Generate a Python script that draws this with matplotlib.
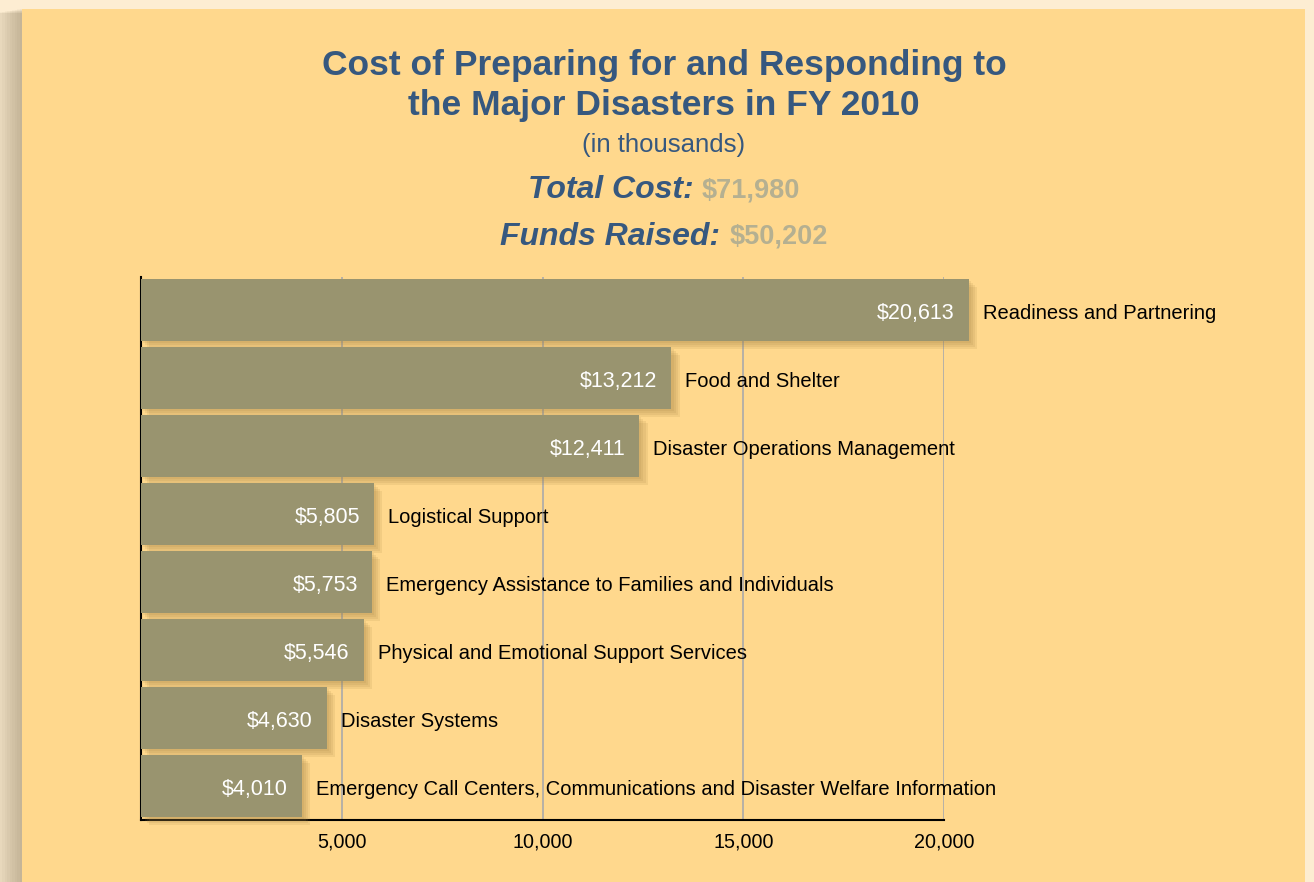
import matplotlib.pyplot as plt
import matplotlib.patheffects as pe
from matplotlib.patches import Rectangle
from matplotlib.ticker import FuncFormatter

categories = [
    "Readiness and Partnering",
    "Food and Shelter",
    "Disaster Operations Management",
    "Logistical Support",
    "Emergency Assistance to Families and Individuals",
    "Physical and Emotional Support Services",
    "Disaster Systems",
    "Emergency Call Centers, Communications and Disaster Welfare Information",
]
costs = [20613, 13212, 12411, 5805, 5753, 5546, 4630, 4010]
tick_values = [5000, 10000, 15000, 20000]
total_cost = 71980
funds_raised = 50202

plt.rcParams['font.family'] = ['Liberation Sans', 'DejaVu Sans']

title_color = '#36587f'
bar_color = '#99946f'
panel_color = '#ffd88d'
outer_color = '#fdedd2'
amount_color = '#b5b091'

fig = plt.figure(figsize=(13.14, 8.82), dpi=100)
fig.patch.set_facecolor(outer_color)

# panel with a soft shadow on the left
W, H = 1314, 882
px, py = 22 / W, 0.0
pw, ph = (1305 - 22) / W, (882 - 9) / H
for i in range(12):
    off = (i + 1) * 2.5 / W
    fig.patches.append(Rectangle((px - off, py), pw, ph - i * 0.4 / H,
                                 transform=fig.transFigure, facecolor='#6b5a3a',
                                 alpha=0.035, edgecolor='none', zorder=0))
fig.patches.append(Rectangle((px, py), pw, ph, transform=fig.transFigure,
                             facecolor=panel_color, edgecolor='none', zorder=1))

# titles
cx = 664 / W
fig.text(cx, 1 - 65 / H, "Cost of Preparing for and Responding to", ha='center', va='center',
         fontsize=25.5, fontweight='bold', color=title_color)
fig.text(cx, 1 - 105 / H, "the Major Disasters in FY 2010", ha='center', va='center',
         fontsize=25.5, fontweight='bold', color=title_color)
fig.text(cx, 1 - 145 / H, "(in thousands)", ha='center', va='center',
         fontsize=18.5, color=title_color)

def summary_line(y, label, amount):
    t1 = fig.text(0, y, label + " ", ha='left', va='center', fontsize=23,
                  fontweight='bold', fontstyle='italic', color=title_color)
    t2 = fig.text(0, y, f"${amount:,}", ha='left', va='center', fontsize=19.5,
                  fontweight='bold', color=amount_color)
    return t1, t2

lines = [summary_line(1 - 190 / H, "Total Cost:", total_cost),
         summary_line(1 - 237 / H, "Funds Raised:", funds_raised)]
fig.canvas.draw()
r = fig.canvas.get_renderer()
for t1, t2 in lines:
    w1 = t1.get_window_extent(r).width / W
    w2 = t2.get_window_extent(r).width / W
    x0 = cx - (w1 + w2) / 2
    t1.set_x(x0)
    t2.set_x(x0 + w1)

ax = fig.add_axes([141 / W, 1 - 820 / H, (944 - 141) / W, (820 - 277) / H])
ax.set_facecolor('none')
ax.set_zorder(2)

y = list(range(len(categories)))
bars = ax.barh(y, costs, height=0.91, color=bar_color, clip_on=False, zorder=3)
shadow = [pe.SimplePatchShadow(offset=(k, -k), shadow_rgbFace='#a07e3e', alpha=0.13)
          for k in (1.5, 3, 4.5, 6)]
for b in bars:
    b.set_path_effects(shadow + [pe.Normal()])

for yi, v, cat in zip(y, costs, categories):
    ax.annotate(f"${v:,}", (v, yi), xytext=(-10, -2.5), textcoords='offset points',
                ha='right', va='center', fontsize=15.5, color='white', zorder=4,
                annotation_clip=False)
    ax.annotate(cat, (v, yi), xytext=(10, -2.5), textcoords='offset points',
                ha='left', va='center', fontsize=14.5, color='black', zorder=4,
                annotation_clip=False)

ax.set_xlim(0, 20000)
ax.set_ylim(7.5, -0.48)
ax.set_xticks(tick_values)
ax.xaxis.set_major_formatter(FuncFormatter(lambda v, p: f"{int(v):,}"))
ax.set_yticks([])
ax.tick_params(axis='x', length=0, pad=9, labelsize=14.2, colors='black')
ax.grid(axis='x', color='#aaaaaa', linewidth=1.2, zorder=1)
ax.set_axisbelow(True)
for s in ['top', 'right']:
    ax.spines[s].set_visible(False)
ax.spines['left'].set_color('black')
ax.spines['left'].set_linewidth(1.5)
ax.spines['bottom'].set_color('black')
ax.spines['bottom'].set_linewidth(1.5)

fig.savefig("out.png", dpi=100, facecolor=fig.get_facecolor())
